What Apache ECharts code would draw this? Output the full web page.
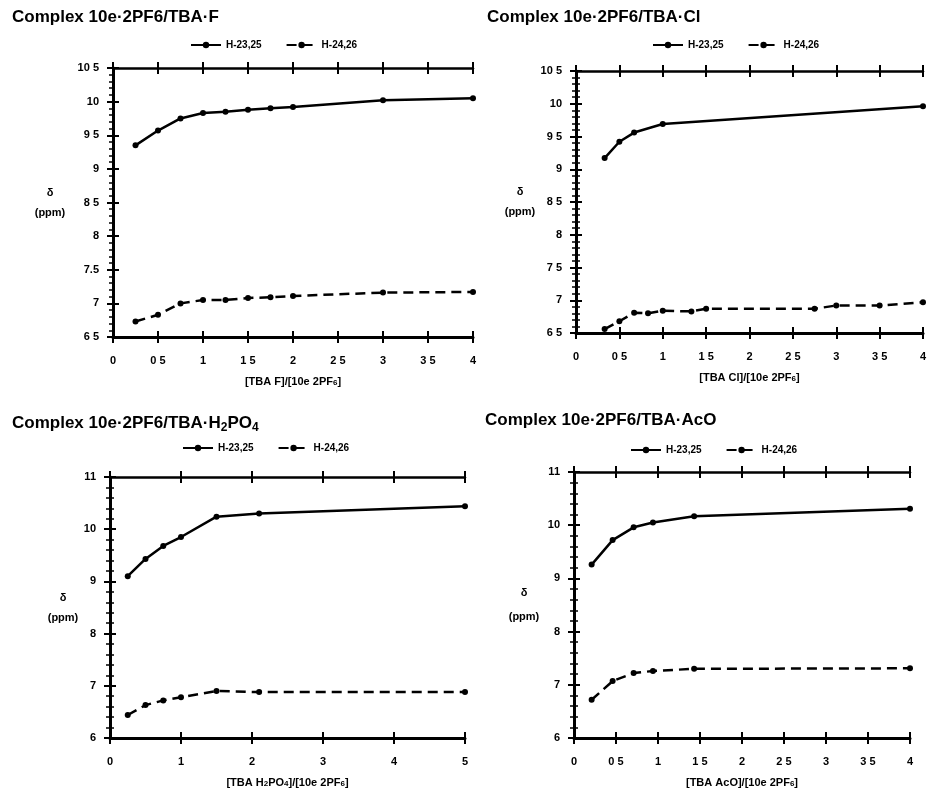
<!DOCTYPE html>
<html>
<head>
<meta charset="utf-8">
<script src="https://cdn.jsdelivr.net/npm/echarts@6/dist/echarts.min.js"></script>
<style>
  html, body { margin: 0; padding: 0; background: #fff; }
  #chart { width: 930px; height: 789px; }
</style>
</head>
<body>
<div id="chart"></div>
<script>
// panel 1: TBA F
const fX = [0.25, 0.5, 0.75, 1.0, 1.25, 1.5, 1.75, 2.0, 3.0, 4.0];
const fH2325 = [9.35, 9.57, 9.75, 9.83, 9.85, 9.88, 9.9, 9.92, 10.02, 10.05];
const fH2426 = [6.73, 6.83, 7.0, 7.05, 7.05, 7.08, 7.09, 7.11, 7.16, 7.17];
const fXLabels = ['0', '0 5', '1', '1 5', '2', '2 5', '3', '3 5', '4'];
const fYLabels = ['6 5', '7', '7.5', '8', '8 5', '9', '9 5', '10', '10 5'];

// panel 2: TBA Cl
const clX1 = [0.33, 0.5, 0.67, 1.0, 4.0];
const clH2325 = [9.17, 9.42, 9.56, 9.69, 9.96];
const clX2 = [0.33, 0.5, 0.67, 0.83, 1.0, 1.33, 1.5, 2.75, 3.0, 3.5, 4.0];
const clH2426 = [6.56, 6.68, 6.81, 6.8, 6.84, 6.83, 6.87, 6.87, 6.92, 6.92, 6.97];
const clXLabels = ['0', '0 5', '1', '1 5', '2', '2 5', '3', '3 5', '4'];
const clYLabels = ['6 5', '7', '7 5', '8', '8 5', '9', '9 5', '10', '10 5'];

// panel 3: TBA H2PO4
const pX = [0.25, 0.5, 0.75, 1.0, 1.5, 2.1, 5.0];
const pH2325 = [9.1, 9.43, 9.68, 9.85, 10.24, 10.3, 10.44];
const pH2426 = [6.44, 6.63, 6.72, 6.78, 6.9, 6.88, 6.88];
const pXLabels = ['0', '1', '2', '3', '4', '5'];
const pYLabels = ['6', '7', '8', '9', '10', '11'];

// panel 4: TBA AcO
const aX = [0.21, 0.46, 0.71, 0.94, 1.43, 4.0];
const aH2325 = [9.26, 9.72, 9.96, 10.05, 10.17, 10.31];
const aH2426 = [6.72, 7.07, 7.22, 7.26, 7.3, 7.31];
const aXLabels = ['0', '0 5', '1', '1 5', '2', '2 5', '3', '3 5', '4'];
const aYLabels = ['6', '7', '8', '9', '10', '11'];

const FONT = '"Liberation Sans", Arial, sans-serif';
const BLACK = '#000';

function pairs(xs, ys) {
  return xs.map((x, i) => [x, ys[i]]);
}

const panels = [
  {
    title: 'Complex 10e·2PF6/TBA·F', titleLeft: 12, titleTop: 9,
    grid: {left: 113, top: 68, width: 360, height: 269},
    legend: {left: 190, top: 40},
    x: {min: 0, max: 4, interval: 0.5, labels: fXLabels, name: '[TBA F]/[10e 2PF{s|6}]'},
    y: {min: 6.5, max: 10.5, interval: 0.5, labels: fYLabels, gap: 63, pad: 10, lh: 20, leftMinor: false},
    s1: pairs(fX, fH2325), s2: pairs(fX, fH2426)
  },
  {
    title: 'Complex 10e·2PF6/TBA·Cl', titleLeft: 487, titleTop: 9,
    grid: {left: 576, top: 71, width: 347, height: 262},
    legend: {left: 652, top: 40},
    x: {min: 0, max: 4, interval: 0.5, labels: clXLabels, name: '[TBA Cl]/[10e 2PF{s|6}]'},
    y: {min: 6.5, max: 10.5, interval: 0.5, labels: clYLabels, gap: 56, pad: 8, lh: 20, leftMinor: true},
    s1: pairs(clX1, clH2325), s2: pairs(clX2, clH2426)
  },
  {
    title: '{t|Complex 10e·2PF6/TBA·H}{s|2}{t|PO}{s|4}', titleLeft: 12, titleTop: 412,
    grid: {left: 110, top: 477, width: 355, height: 266},
    legend: {left: 182, top: 443},
    x: {min: 0, max: 5, interval: 1, labels: pXLabels, name: '[TBA H{s|2}PO{s|4}]/[10e 2PF{s|6}]'},
    y: {min: 6, max: 11, interval: 1, labels: pYLabels, gap: 47, pad: 4, lh: 20, leftMinor: true},
    s1: pairs(pX, pH2325), s2: pairs(pX, pH2426)
  },
  {
    title: 'Complex 10e·2PF6/TBA·AcO', titleLeft: 485, titleTop: 412,
    grid: {left: 574, top: 472, width: 336, height: 266},
    legend: {left: 630, top: 445},
    x: {min: 0, max: 4, interval: 0.5, labels: aXLabels, name: '[TBA AcO]/[10e 2PF{s|6}]'},
    y: {min: 6, max: 11, interval: 1, labels: aYLabels, gap: 50, pad: 18, lh: 24, leftMinor: true},
    s1: pairs(aX, aH2325), s2: pairs(aX, aH2426)
  }
];

const subRich = {
  s: {fontSize: 8, fontWeight: 'bold', fontFamily: FONT, color: BLACK, verticalAlign: 'bottom', lineHeight: 8}
};

function labelFrom(labels, min, interval) {
  return function (v) {
    return labels[Math.round((v - min) / interval)] || '';
  };
}

const option = {
  backgroundColor: '#fff',
  animation: false,
  title: [],
  legend: [],
  grid: [],
  xAxis: [],
  yAxis: [],
  series: []
};

panels.forEach((p, g) => {
  option.title.push({
    text: p.title,
    left: p.titleLeft,
    top: p.titleTop,
    padding: 0,
    textStyle: {
      fontSize: 17, fontWeight: 'bold', fontFamily: FONT, color: BLACK,
      rich: {
        t: {fontSize: 17, fontWeight: 'bold', fontFamily: FONT, color: BLACK, lineHeight: 22, verticalAlign: 'middle'},
        s: {fontSize: 12, fontWeight: 'bold', fontFamily: FONT, color: BLACK, lineHeight: 12, verticalAlign: 'bottom'}
      }
    }
  });
  option.legend.push({
    left: p.legend.left,
    top: p.legend.top,
    itemWidth: 30,
    itemHeight: 8,
    itemGap: 24,
    padding: 0,
    selectedMode: false,
    textStyle: {fontSize: 10, fontWeight: 'bold', fontFamily: FONT, color: BLACK},
    data: ['H-23,25', 'H-24,26']
  });
  option.grid.push(Object.assign({containLabel: false}, p.grid));

  const xi = option.xAxis.length;
  const yi = option.yAxis.length;
  const xBase = {gridIndex: g, type: 'value', min: p.x.min, max: p.x.max, interval: p.x.interval, splitLine: {show: false}};
  const yBase = {gridIndex: g, type: 'value', min: p.y.min, max: p.y.max, interval: p.y.interval, splitLine: {show: false}};
  const tick = (inside) => ({show: true, inside: inside, length: 6, lineStyle: {color: BLACK, width: 2}});
  const minor = (on) => ({show: on, splitNumber: 5, length: 4, lineStyle: {color: BLACK, width: 1.5}});

  // bottom axis with labels, then its inner ticks
  option.xAxis.push(Object.assign({}, xBase, {
    position: 'bottom',
    axisLine: {lineStyle: {color: BLACK, width: 3}},
    axisTick: tick(false),
    axisLabel: {margin: 18, fontSize: 11, fontWeight: 'bold', fontFamily: FONT, color: BLACK,
      formatter: labelFrom(p.x.labels, p.x.min, p.x.interval)},
    name: p.x.name,
    nameLocation: 'middle',
    nameGap: 39,
    nameTextStyle: {fontSize: 11, fontWeight: 'bold', fontFamily: FONT, color: BLACK, rich: subRich}
  }));
  option.xAxis.push(Object.assign({}, xBase, {
    position: 'bottom', axisLine: {show: false}, axisTick: tick(true), axisLabel: {show: false}
  }));
  option.xAxis.push(Object.assign({}, xBase, {
    position: 'top', axisLine: {lineStyle: {color: BLACK, width: 2.5}}, axisTick: tick(false), axisLabel: {show: false}
  }));
  option.xAxis.push(Object.assign({}, xBase, {
    position: 'top', axisLine: {show: false}, axisTick: tick(true), axisLabel: {show: false}
  }));

  // left axis with labels, then inner ticks, then right side
  option.yAxis.push(Object.assign({}, yBase, {
    position: 'left',
    axisLine: {lineStyle: {color: BLACK, width: 3}},
    axisTick: tick(false),
    axisLabel: {margin: 14, fontSize: 11, fontWeight: 'bold', fontFamily: FONT, color: BLACK,
      formatter: labelFrom(p.y.labels, p.y.min, p.y.interval)},
    name: 'δ\n(ppm)',
    nameLocation: 'middle',
    nameRotate: 0,
    nameGap: p.y.gap,
    nameTextStyle: {fontSize: 11, fontWeight: 'bold', fontFamily: FONT, color: BLACK, align: 'center',
      verticalAlign: 'middle', lineHeight: p.y.lh, padding: [p.y.pad, 0, 0, 0]}
  }));
  option.yAxis.push(Object.assign({}, yBase, {
    position: 'left', axisLine: {show: false}, axisTick: tick(true), minorTick: minor(p.y.leftMinor), axisLabel: {show: false}
  }));
  option.yAxis.push(Object.assign({}, yBase, {
    position: 'right', axisLine: {lineStyle: {color: BLACK, width: 2}}, axisTick: tick(false), axisLabel: {show: false}
  }));
  option.yAxis.push(Object.assign({}, yBase, {
    position: 'right', axisLine: {show: false}, axisTick: tick(true), minorTick: minor(true), axisLabel: {show: false}
  }));

  option.series.push({
    name: 'H-23,25',
    type: 'line',
    xAxisIndex: xi,
    yAxisIndex: yi,
    data: p.s1,
    symbol: 'circle',
    symbolSize: 6,
    itemStyle: {color: BLACK},
    lineStyle: {color: BLACK, width: 2.5}
  });
  option.series.push({
    name: 'H-24,26',
    type: 'line',
    xAxisIndex: xi,
    yAxisIndex: yi,
    data: p.s2,
    symbol: 'circle',
    symbolSize: 6,
    itemStyle: {color: BLACK},
    lineStyle: {color: BLACK, width: 2.5, type: [10, 6]}
  });
});

const chart = echarts.init(document.getElementById('chart'), null, {renderer: 'canvas'});
chart.setOption(option);
window.addEventListener('resize', () => {
  chart.resize();
});
</script>
</body>
</html>
